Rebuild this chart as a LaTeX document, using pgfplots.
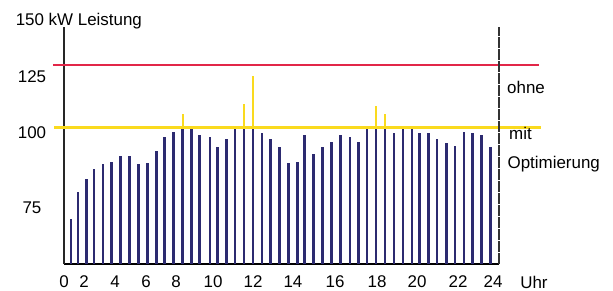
\documentclass[border=0pt]{standalone}
\usepackage{pgfplots}
\pgfplotsset{compat=1.18}
\usepackage{fontspec}
\setmainfont{Liberation Sans}
\definecolor{barblue}{RGB}{44,42,112}
\definecolor{limred}{RGB}{226,38,72}
\definecolor{limyel}{RGB}{250,218,30}
\pgfplotstableread{
x y
0.386 61.9
0.772 73.9
1.230 79.6
1.655 84.1
2.152 86.3
2.632 87.2
3.128 89.8
3.603 89.8
4.099 86.3
4.596 86.7
5.092 92.0
5.556 98.2
6.052 100.4
6.549 102.5
7.046 102.5
7.465 99.1
8.055 98.2
8.458 93.8
8.954 97.3
9.434 102.5
9.931 102.5
10.428 102.5
10.924 100.0
11.382 97.3
11.901 93.8
12.375 86.7
12.872 87.2
13.280 99.1
13.777 90.7
14.273 93.8
14.770 96.0
15.266 99.1
15.779 98.2
16.237 96.0
16.717 102.5
17.214 102.5
17.710 102.5
18.207 100.0
18.703 102.5
19.200 102.5
19.603 100.0
20.099 100.0
20.579 97.3
21.092 95.6
21.572 94.2
22.069 100.4
22.549 100.0
23.046 99.1
23.520 93.8
}\mitdata
\pgfplotstableread{
x y
6.549 108.4
9.931 112.8
10.428 125.2
17.214 111.9
17.710 108.4
}\spikedata
\begin{document}
\fontsize{12.7}{15}\selectfont
\begin{tikzpicture}[x=1pt,y=1pt]
\path[use as bounding box] (0,0) rectangle (459.75,217.5);
\pgfplotsset{myax/.style={scale only axis, width=326.25pt, height=177.75pt,
  at={(48pt,19.5pt)}, anchor=south west,
  xmin=0, xmax=24, ymin=42.04, ymax=146.9}}
\begin{axis}[myax,
  axis x line*=bottom, axis y line*=left,
  x axis line style={line width=2pt, black},
  y axis line style={line width=1pt, black!85},
  major tick length=0pt,
  xtick={0,1.103,2.814,4.524,6.179,8.221,10.428,12.634,14.952,17.269,19.476,21.738,23.669},
  xticklabels={0,2,4,6,8,10,12,14,16,18,20,22,24},
  ytick={67.1,100.3,125.1},
  yticklabels={75,100,125},
  x tick label style={anchor=center, yshift=-13.5pt},
  y tick label style={anchor=center, xshift=-24pt},
  /pgf/number format/assume math mode=true]
\addplot[ycomb, limyel, line width=1.6pt, mark=none] table {\spikedata};
\addplot[ycomb, barblue, line width=2pt, mark=none] table {\mitdata};
\end{axis}
\begin{axis}[myax, hide axis, clip=false]
\addplot[limred, line width=1.8pt] coordinates {(-0.607,130.1) (26.2,130.1)};
\addplot[limyel, line width=2pt] coordinates {(-0.55,102.5) (26.32,102.5)};
\addplot[black!80, line width=0.8pt, dash pattern=on 8pt off 1pt] coordinates {(24,42.04) (24,146.9)};
\node[anchor=base west, inner sep=0pt] at (axis cs:-2.676,147.35) {150 kW Leistung};
\node[anchor=base west, inner sep=0pt] at (axis cs:24.44,117.26) {ohne};
\node[anchor=base west, inner sep=0pt] at (axis cs:24.55,97.2) {mit};
\node[anchor=base west, inner sep=0pt] at (axis cs:24.46,84.4) {Optimierung};
\node[anchor=base west, inner sep=0pt] at (axis cs:25.16,31.4) {Uhr};
\end{axis}
\end{tikzpicture}
\end{document}
